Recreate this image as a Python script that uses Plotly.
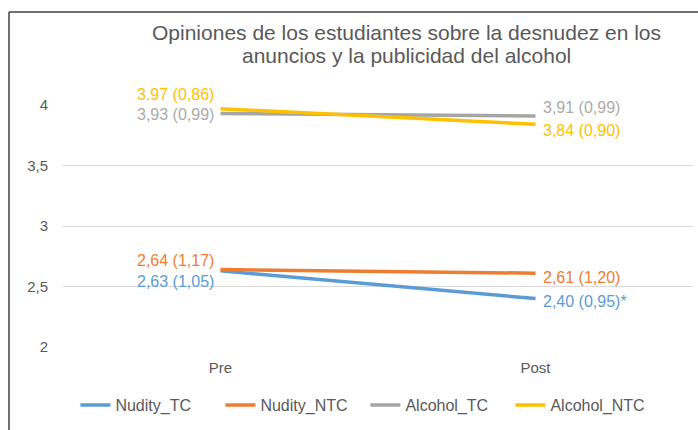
import plotly.graph_objects as go

categories = ["Pre", "Post"]
series_names = ["Nudity_TC", "Nudity_NTC", "Alcohol_TC", "Alcohol_NTC"]
nudity_tc = [2.63, 2.40]
nudity_ntc = [2.64, 2.61]
alcohol_tc = [3.93, 3.91]
alcohol_ntc = [3.97, 3.84]
labels = {
    "Nudity_TC": ["2,63 (1,05)", "2,40 (0,95)*"],
    "Nudity_NTC": ["2,64 (1,17)", "2,61 (1,20)"],
    "Alcohol_TC": ["3,93 (0,99)", "3,91 (0,99)"],
    "Alcohol_NTC": ["3.97 (0,86)", "3,84 (0,90)"],
}
values = {"Nudity_TC": nudity_tc, "Nudity_NTC": nudity_ntc,
          "Alcohol_TC": alcohol_tc, "Alcohol_NTC": alcohol_ntc}
colors = {"Nudity_TC": "#5B9BD5", "Nudity_NTC": "#ED7D31",
          "Alcohol_TC": "#A5A5A5", "Alcohol_NTC": "#FFC000"}
label_colors = {"Nudity_TC": "#5B9BD5", "Nudity_NTC": "#ED7D31",
                "Alcohol_TC": "#ABABAB", "Alcohol_NTC": "#FFC000"}
# label vertical offsets (px) at Pre and Post
yshifts = {"Nudity_TC": [-11, -3], "Nudity_NTC": [9, -4],
           "Alcohol_TC": [-1, 8], "Alcohol_NTC": [14, -6]}
title_lines = ["Opiniones de los estudiantes sobre la desnudez en los",
               "anuncios y la publicidad del alcohol"]

FONT = "Liberation Sans, Arial, sans-serif"
GREY = "#595959"

fig = go.Figure()
for name in series_names:
    fig.add_trace(go.Scatter(
        x=categories, y=values[name], mode="lines", name=name,
        line=dict(color=colors[name], width=3.5),
    ))

annotations = []
for name in series_names:
    for i, cat in enumerate(categories):
        annotations.append(dict(
            x=cat, y=values[name][i], xref="x", yref="y",
            text=labels[name][i], showarrow=False,
            xanchor="right" if i == 0 else "left",
            xshift=-5 if i == 0 else 5,
            yshift=yshifts[name][i],
            font=dict(family=FONT, size=16, color=label_colors[name]),
        ))

# title as two lines for tight line spacing
for k, (line, ypix) in enumerate(zip(title_lines, [32, 55])):
    annotations.append(dict(
        x=0.545, y=(347 - ypix) / 242, xref="paper", yref="paper",
        xanchor="center", yanchor="middle", showarrow=False,
        text=line, font=dict(family=FONT, size=21, color=GREY),
    ))

fig.update_layout(
    width=698, height=430,
    margin=dict(l=63, r=5, t=105, b=83),
    paper_bgcolor="white", plot_bgcolor="white",
    font=dict(family=FONT, size=15, color=GREY),
    showlegend=True,
    legend=dict(orientation="h", x=0.48, xanchor="center", y=-0.17, yanchor="top",
                font=dict(family=FONT, size=16, color=GREY),
                entrywidth=100, entrywidthmode="pixels",
                tracegroupgap=0),
    annotations=annotations,
    xaxis=dict(type="category", range=[-0.5, 1.5], showgrid=False, showline=False,
               zeroline=False, ticks="", ticklabelstandoff=10,
               tickfont=dict(family=FONT, size=15, color=GREY)),
    yaxis=dict(range=[2, 4], dtick=0.5, showgrid=True, gridcolor="#D9D9D9", gridwidth=1,
               zeroline=False, showline=False, ticks="",
               tickformat=".1~f", ticklabelstandoff=14,
               tickfont=dict(family=FONT, size=15, color=GREY)),
    separators=",.",
    shapes=[
        dict(type="line", xref="paper", yref="paper", x0=-0.0857, x1=1.01, y0=1.384, y1=1.384,
             line=dict(color="#404040", width=1.5)),
        dict(type="line", xref="paper", yref="paper", x0=-0.0857, x1=-0.0857, y0=1.384, y1=-0.4,
             line=dict(color="#404040", width=1.5)),
    ],
)

fig.write_html("out.html", config={"displayModeBar": False},
               post_script="document.body.style.margin='0';document.body.style.overflow='hidden';")
